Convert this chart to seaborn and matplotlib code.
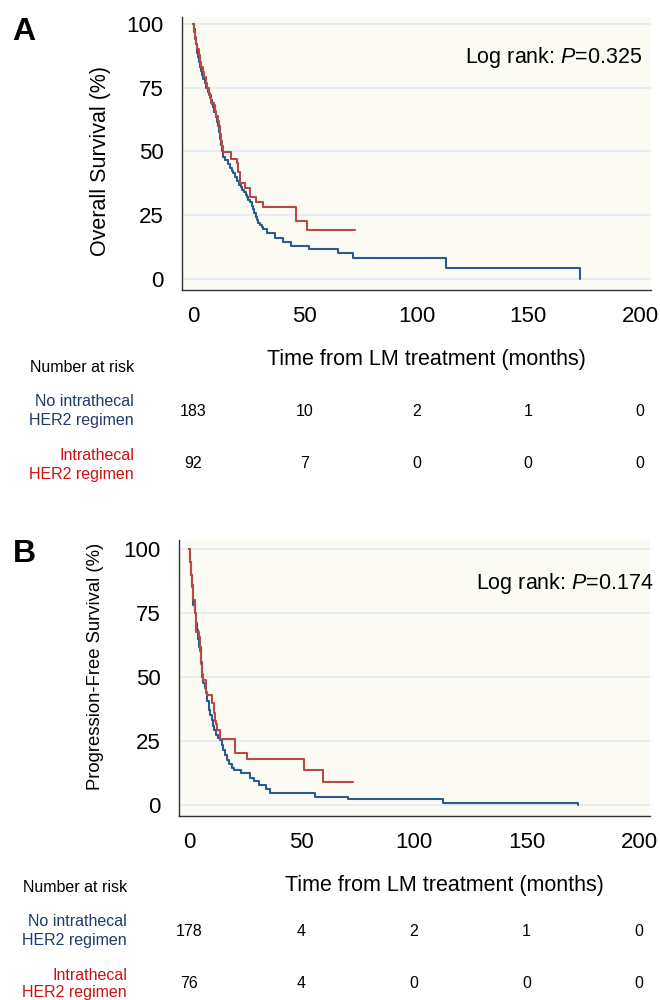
import matplotlib
matplotlib.use("Agg")
import matplotlib.pyplot as plt
import matplotlib.transforms as mtransforms
import seaborn as sns

sns.set_theme(style="white")
plt.rcParams['font.family'] = ['Liberation Sans', 'DejaVu Sans']
plt.rcParams['text.color'] = 'black'
plt.rcParams['mathtext.fontset'] = 'custom'
plt.rcParams['mathtext.rm'] = 'Liberation Sans'
plt.rcParams['mathtext.it'] = 'Liberation Sans:italic'

# ---------------- data ----------------
# Panel A: overall survival
os_no_t = [0, 0.3, 0.7, 1, 1.3, 1.7, 2, 2.4, 2.7, 3.1, 3.6, 4, 4.6, 5.2, 6, 6.6, 7.3, 8, 8.6, 9.1,
           9.6, 10.2, 10.8, 11.3, 11.8, 12.3, 12.7, 13.1, 13.6, 14.5, 15.5, 16.5, 17.3, 18, 18.8,
           19.6, 20.4, 21.3, 22, 22.8, 23.6, 24.2, 24.7, 25.5, 26.2, 26.8, 27.4, 28, 28.6, 29.3,
           30, 30.7, 31.5, 33, 36.5, 40.2, 44, 52, 65, 71.7, 113, 173]
os_no_s = [100, 98, 96, 94, 92, 90, 88.5, 87, 85, 83, 81.5, 80, 78.5, 77, 75, 73.5, 72, 70, 68.5, 67.5,
           65.5, 63.5, 61.5, 60, 57.5, 55, 52.5, 50, 48, 46.5, 45, 43.5, 42.5, 41.4, 40,
           38.5, 37, 36, 35, 34, 33, 32, 31, 30, 28.5, 27.3, 25.8, 24.5, 23.2, 22,
           21.2, 20.5, 19.5, 17.9, 15.9, 14.6, 13.1, 11.8, 10.1, 8.4, 4.2, 0]
os_it_t = [0, 0.5, 1, 1.5, 2, 2.5, 3.2, 3.8, 4.3, 5, 5.6, 6.2, 7, 7.6, 8.1, 9.3, 9.8, 10.5, 11, 11.5,
           12, 12.5, 13, 13.6, 17, 19.8, 20.3, 21, 23.3, 25.5, 28.2, 31.2, 46, 50.9, 72.5]
os_it_s = [100, 97, 95, 92, 90, 88, 85, 83, 81, 79, 77, 75, 73, 71, 69, 68.2, 66, 64, 62, 60,
           57, 54, 52, 49.7, 46.9, 45.3, 42.1, 37.8, 35.8, 32.3, 30.3, 28.1, 22.9, 19.2, 19.2]

# Panel B: progression-free survival
pfs_no_t = [0, 0.4, 0.8, 1.2, 1.6, 2, 2.6, 3, 3.4, 4, 4.6, 5.2, 5.9, 6.4, 7, 7.6, 8.2, 8.9, 9.5, 10.1,
            10.7, 11.3, 12, 13, 13.7, 14.5, 15.3, 16.2, 17, 18, 18.9, 20, 22.9, 27, 29, 31.3, 34.2,
            36, 56, 70.6, 113, 173]
pfs_no_s = [100, 95, 90, 86, 82, 78, 74.9, 71, 68.4, 65, 61.8, 56, 50.1, 47.5, 45.5, 43.6, 40.5, 37.1, 35, 33.2,
            31, 29.3, 27.5, 26, 25.4, 23.5, 21.5, 19.5, 17.6, 16, 14.3, 13.5, 12.4, 10.4, 9.2, 7.8, 6.1,
            4.6, 3.3, 2.2, 0.9, 0]
pfs_it_t = [0, 0.5, 1, 1.5, 2, 2.5, 3.1, 4.6, 5, 5.5, 6, 6.4, 7.4, 8.1, 10.4, 11.1, 11.6, 12.1, 12.6,
            13.8, 20.4, 25.7, 51.1, 59.4, 72.7]
pfs_it_s = [100, 95, 90, 85, 80, 75, 67.7, 65.8, 60, 55, 51, 48.8, 44.3, 43, 39.7, 36, 33, 31.5, 29.3,
            25.7, 20.4, 18.1, 13.7, 9.1, 9.1]

x_ticks = [0, 50, 100, 150, 200]
y_ticks = [0, 25, 50, 75, 100]
risk_times = [0, 50, 100, 150, 200]
risk_os_no = [183, 10, 2, 1, 0]
risk_os_it = [92, 7, 0, 0, 0]
risk_pfs_no = [178, 4, 2, 1, 0]
risk_pfs_it = [76, 4, 0, 0, 0]
group_labels = ["No intrathecal\nHER2 regimen", "Intrathecal\nHER2 regimen"]
p_values = ["0.325", "0.174"]

# ---------------- styling ----------------
W, H = 660, 1000
BLUE = "#2a5a8e"
RED = "#b84a45"
NAVY = "#1f3a6b"
LRED = "#cc1111"
BG = "#fbfbf3"
GRID = "#e3ebf4"
DARK = "#333333"

fig = plt.figure(figsize=(W / 100, H / 100), dpi=100)
fig.patch.set_facecolor("white")


def px_ax(left, top, right, bottom):
    return [left / W, 1 - bottom / H, (right - left) / W, (bottom - top) / H]


def fx(x):
    return x / W


def fy(y):
    return 1 - y / H


def style_axes(ax, xlim, ylim):
    ax.set_facecolor(BG)
    ax.set_xlim(*xlim)
    ax.set_ylim(*ylim)
    ax.set_xticks(x_ticks)
    ax.set_yticks(y_ticks)
    ax.set_xticklabels([str(v) for v in x_ticks])
    ax.set_yticklabels([str(v) for v in y_ticks])
    for s in ["top", "right"]:
        ax.spines[s].set_visible(False)
    for s in ["left", "bottom"]:
        ax.spines[s].set_color(DARK)
        ax.spines[s].set_linewidth(1.0)
    ax.tick_params(axis="both", direction="out", length=5, width=0.9, color=DARK,
                   labelsize=16, labelcolor="black")
    ax.tick_params(axis="y", pad=8)
    ax.tick_params(axis="x", pad=6.5)
    ax.yaxis.grid(True, color=GRID, lw=1.3)
    ax.xaxis.grid(False)
    ax.set_axisbelow(True)
    ax.set_xlabel("")
    ax.set_ylabel("")


panels = [
    dict(rect=(182, 17, 651, 290), xlim=(-4.92, 204.9), ylim=(-4.3, 102.7),
         curves=[(os_no_t, os_no_s, BLUE), (os_it_t, os_it_s, RED)],
         letter=("A", 12, 40), ylabel=("Overall Survival (%)", 101, 161, 15.5),
         logrank=(642, 58, p_values[0]), xlabel=(426, 360),
         nar=(134, 367), groups=[(402, 421), (455, 474)], rows=(411, 464),
         risks=[risk_os_no, risk_os_it]),
    dict(rect=(179, 540, 650, 816), xlim=(-4.44, 204.9), ylim=(-4.3, 103.5),
         curves=[(pfs_no_t, pfs_no_s, BLUE), (pfs_it_t, pfs_it_s, RED)],
         letter=("B", 13, 562), ylabel=("Progression-Free Survival (%)", 95.5, 666, 13.3),
         logrank=(654, 583, p_values[1]), xlabel=(444, 885),
         nar=(127, 887), groups=[(922, 941), (975, 993)], rows=(931, 984),
         risks=[risk_pfs_no, risk_pfs_it]),
]

for p in panels:
    ax = fig.add_axes(px_ax(*p["rect"]))
    for t, s, c in p["curves"]:
        sns.lineplot(x=t, y=s, drawstyle="steps-post", estimator=None, sort=False,
                     color=c, lw=1.5, ax=ax)
    style_axes(ax, p["xlim"], p["ylim"])

    letter, lx, ly = p["letter"]
    fig.text(fx(lx), fy(ly), letter, fontsize=23, fontweight="bold", ha="left", va="baseline",
             color="black")

    yl, yx, yy, ys = p["ylabel"]
    fig.text(fx(yx), fy(yy), yl, rotation=90, ha="center", va="center", fontsize=ys, color="black")

    rx, ry, pv = p["logrank"]
    fig.text(fx(rx), fy(ry), "Log rank: $\\mathit{P}$=" + pv, ha="right", va="center",
             fontsize=15.5, color="black")

    xx, xy = p["xlabel"]
    fig.text(fx(xx), fy(xy), "Time from LM treatment (months)", ha="center", va="center",
             fontsize=15.5, color="black")

    nx, ny = p["nar"]
    fig.text(fx(nx), fy(ny), "Number at risk", ha="right", va="center", fontsize=11.5, color="black")
    for (g1, g2), lab, col in zip(p["groups"], group_labels, [NAVY, LRED]):
        l1, l2 = lab.split("\n")
        fig.text(fx(nx), fy(g1), l1, ha="right", va="center", fontsize=11.5, color=col)
        fig.text(fx(nx), fy(g2), l2, ha="right", va="center", fontsize=11.5, color=col)

    trans = mtransforms.blended_transform_factory(ax.transData, fig.transFigure)
    for row_y, vals in zip(p["rows"], p["risks"]):
        for t, v in zip(risk_times, vals):
            fig.text(t, fy(row_y), str(v), transform=trans, ha="center", va="center",
                     fontsize=11.5, color="black")

fig.savefig("out.png", dpi=100, facecolor="white")
